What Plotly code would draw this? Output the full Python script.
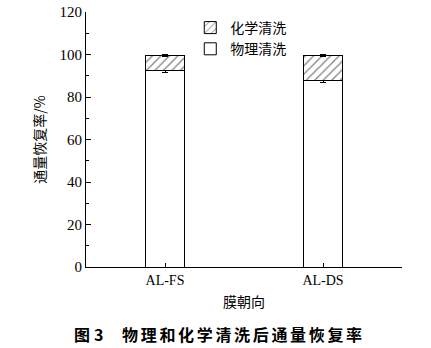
import plotly.graph_objects as go

# Membrane orientations and flux recovery rates (%)
orientations = ["AL-FS", "AL-DS"]
physical_clean = [92.7, 87.6]
chemical_clean = [6.9, 12.0]
physical_err = [1.0, 1.0]
chemical_err = [0.5, 0.5]

serif = "Liberation Serif, Times New Roman, serif"
cjk = "Noto Sans CJK SC, sans-serif"

fig = go.Figure()
fig.add_trace(go.Bar(
    x=orientations, y=physical_clean, name="物理清洗", width=0.25,
    marker=dict(color="white", line=dict(color="black", width=1)),
    error_y=dict(type="data", array=physical_err, color="black", thickness=1, width=3),
))
fig.add_trace(go.Bar(
    x=orientations, y=chemical_clean, name="化学清洗", width=0.25,
    marker=dict(color="white", line=dict(color="black", width=1),
                pattern=dict(shape="/", fgcolor="black", bgcolor="white", size=6, solidity=0.2)),
    error_y=dict(type="data", array=chemical_err, color="black", thickness=1, width=3),
))

fig.update_layout(
    width=431, height=348,
    margin=dict(l=86, r=29, t=12, b=81),
    paper_bgcolor="white", plot_bgcolor="white",
    barmode="stack", showlegend=True,
    legend=dict(x=0.33, y=1.0, xanchor="left", yanchor="top", traceorder="reversed",
                font=dict(family=cjk, size=14, color="black"), bgcolor="rgba(0,0,0,0)",
                itemwidth=30, tracegroupgap=0),
    font=dict(family=serif, color="black"),
)
fig.update_xaxes(
    range=[-0.5, 1.5], showline=True, linecolor="black", linewidth=1,
    ticks="inside", ticklen=4, tickcolor="black", automargin=False,
    tickfont=dict(family=serif, size=14, color="black"),
    title=dict(text="膜朝向", font=dict(family=cjk, size=14, color="black"), standoff=10),
    showgrid=False, zeroline=False,
)
fig.update_yaxes(
    range=[0, 120], tickvals=[0, 20, 40, 60, 80, 100, 120],
    showline=True, linecolor="black", linewidth=1, automargin=False,
    ticks="inside", ticklen=5, tickcolor="black",
    minor=dict(ticks="inside", ticklen=3, tickcolor="black", dtick=10),
    tickfont=dict(family=serif, size=15, color="black"),
    title=dict(text="通量恢复率/%", font=dict(family=cjk, size=14, color="black"), standoff=10),
    showgrid=False, zeroline=False,
)

sp = "\u2006"
caption = "图" + "\u2005" + "3" + "\u2003" + sp + sp.join("物理和化学清洗后通量恢复率")
fig.add_annotation(
    text="<b>" + caption + "</b>", xref="paper", yref="paper",
    x=-0.045, y=0, yshift=-67, xanchor="left", yanchor="middle", showarrow=False,
    font=dict(family=cjk, size=16, color="black"),
)

fig.write_html("out.html")
